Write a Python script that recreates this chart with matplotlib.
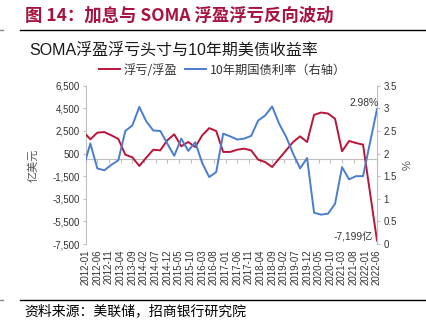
import matplotlib
matplotlib.use("Agg")
import matplotlib.pyplot as plt
from matplotlib.lines import Line2D
from matplotlib.ticker import FuncFormatter, MultipleLocator

plt.rcParams['font.family'] = ['Liberation Sans', 'Noto Sans CJK SC']
CJK = ['Noto Sans CJK SC', 'Liberation Sans']

# Quarterly observations (month stamps)
dates = [
    "2012-01", "2012-03", "2012-06", "2012-09", "2012-12",
    "2013-03", "2013-06", "2013-09", "2013-12",
    "2014-03", "2014-06", "2014-09", "2014-12",
    "2015-03", "2015-06", "2015-09", "2015-12",
    "2016-03", "2016-06", "2016-09", "2016-12",
    "2017-03", "2017-06", "2017-09", "2017-12",
    "2018-03", "2018-06", "2018-09", "2018-12",
    "2019-03", "2019-06", "2019-09", "2019-12",
    "2020-03", "2020-06", "2020-09", "2020-12",
    "2021-03", "2021-06", "2021-09", "2021-12",
    "2022-06",
]

# SOMA unrealized gain / loss, 100 million USD
soma_pnl = [
    2200, 1760, 2350, 2400, 2110,
    1790, 400, 170, -600,
    140, 840, 780, 1670,
    2200, 1140, 1520, 1080,
    2110, 2750, 2490, 640,
    640, 840, 930, 780,
    -40, -250, -690, 50,
    780, 1520, 2020, 1520,
    3920, 4125, 4040, 3570,
    700, 1610, 1430, 1290,
    -7199,
]

# 10-year Treasury yield, %
ust10y = [
    1.87, 2.22, 1.67, 1.63, 1.75,
    1.85, 2.50, 2.62, 3.03,
    2.71, 2.51, 2.50, 2.22,
    1.95, 2.33, 2.06, 2.25,
    1.79, 1.48, 1.59, 2.44,
    2.38, 2.31, 2.33, 2.39,
    2.73, 2.84, 3.04, 2.66,
    2.37, 2.00, 1.67, 1.90,
    0.69, 0.65, 0.67, 0.89,
    1.70, 1.43, 1.50, 1.50,
    2.98,
]

start_year, start_month = 2012, 1
end_label = "2022-06"


def month_index(s):
    y, m = s.split("-")
    return (int(y) - start_year) * 12 + int(m) - start_month


x = [month_index(d) for d in dates]
x_end = month_index(end_label)
tick_pos = list(range(0, x_end + 1, 5))
tick_lab = [f"{start_year + (p + start_month - 1) // 12}-{(p + start_month - 1) % 12 + 1:02d}"
            for p in tick_pos]

RED = '#BA1539'
BLUE = '#4A7DCF'
GREY = '#BFBFBF'
TXT = '#333333'

W, H = 427, 327
fig = plt.figure(figsize=(W / 100, H / 100), dpi=100)

# header and rules
fig.text(25 / W, 1 - 16 / H, "图 14：加息与 SOMA 浮盈浮亏反向波动", family=CJK,
         fontsize=12.5, fontweight='bold', color='#A8123E', va='center', ha='left')
fig.add_artist(Line2D([20 / W, 1.0], [1 - 30 / H] * 2, color='black', lw=1.0))
fig.add_artist(Line2D([0, 3 / W], [1 - 30 / H] * 2, color='#888888', lw=1.0))
fig.text(29 / W, 1 - 50 / H, "SOMA浮盈浮亏头寸与10年期美债收益率",
         family=['Liberation Sans', 'Noto Sans CJK SC'], fontsize=11.5,
         color='#1A1A1A', va='center', ha='left')
fig.add_artist(Line2D([20 / W, 1.0], [1 - 299.5 / H] * 2, color='black', lw=1.0))
fig.add_artist(Line2D([0, 3 / W], [1 - 299.5 / H] * 2, color='#888888', lw=1.0))
fig.text(24 / W, 1 - 311 / H, "资料来源：美联储，招商银行研究院", family=CJK,
         fontsize=10, color='black', va='center', ha='left')

left, right, top, bottom = 85.7, 377, 85.7, 244
ax = fig.add_axes([left / W, 1 - bottom / H, (right - left) / W, (bottom - top) / H])
ax2 = ax.twinx()

l1, = ax.plot(x, soma_pnl, color=RED, lw=1.4, label="浮亏/浮盈", zorder=3)
l2, = ax2.plot(x, ust10y, color=BLUE, lw=1.4, label="10年期国债利率（右轴）", zorder=3)

ax.set_xlim(0, x_end)
ax.set_ylim(-7500, 6500)
ax.set_yticks(range(-7500, 6501, 2000))
ax.yaxis.set_major_formatter(FuncFormatter(lambda v, p: f"{v:,.0f}"))
ax2.set_ylim(0, 3.5)
ax2.yaxis.set_major_locator(MultipleLocator(0.5))
ax2.yaxis.set_major_formatter(FuncFormatter(lambda v, p: f"{v:g}"))

for a in (ax, ax2):
    for s in a.spines.values():
        s.set_color(GREY)
        s.set_linewidth(0.8)
    a.spines['top'].set_visible(False)
ax.spines['right'].set_visible(False)
ax2.spines['left'].set_visible(False)
ax2.spines['bottom'].set_visible(False)

# category axis line sits at zero
ax.spines['bottom'].set_position(('data', 0))
ax.set_xticks(tick_pos)
ax.tick_params(axis='x', labelbottom=False, direction='out', length=3,
               color=GREY, width=0.8)
ax.tick_params(axis='y', direction='out', length=2.5, color=GREY, width=0.8,
               labelsize=7, labelcolor=TXT, pad=2)
ax2.tick_params(axis='y', direction='out', length=2.5, color=GREY, width=0.8,
                labelsize=7, labelcolor=TXT, pad=2)

sec = ax.secondary_xaxis('bottom')
sec.set_xticks(tick_pos, tick_lab)
sec.tick_params(length=0, pad=4, labelsize=7, labelcolor=TXT, labelrotation=90)
sec.spines['bottom'].set_visible(False)

# axis titles
mid_y = 1 - (top + bottom) / 2 / H
fig.text(33 / W, mid_y, "亿美元", family=CJK, fontsize=8, color='#555555',
         rotation=90, ha='center', va='center')
fig.text(408 / W, mid_y, "%", fontsize=8, color='#555555',
         rotation=90, ha='center', va='center')

# value labels at the last observation
ax2.annotate(f"{ust10y[-1]:.2f}%", (x[-1], ust10y[-1]), xytext=(1.5, 4.5),
             textcoords='offset points', ha='right', va='center',
             fontsize=7.4, color=TXT)
ax.annotate(f"{soma_pnl[-1]:,.0f}亿", (x[-1], soma_pnl[-1]), xytext=(-3, 2),
            textcoords='offset points', ha='right', va='center',
            family=['Liberation Sans', 'Noto Sans CJK SC'], fontsize=7.4, color=TXT)

fig.legend(handles=[l1, l2], loc='center', bbox_to_anchor=(222.5 / W, 1 - 70 / H),
           ncol=2, frameon=False, prop={'family': CJK, 'size': 8.8},
           handlelength=1.7, handletextpad=0.35, columnspacing=0.6, labelcolor=TXT)

fig.savefig("out.png", dpi=100)
